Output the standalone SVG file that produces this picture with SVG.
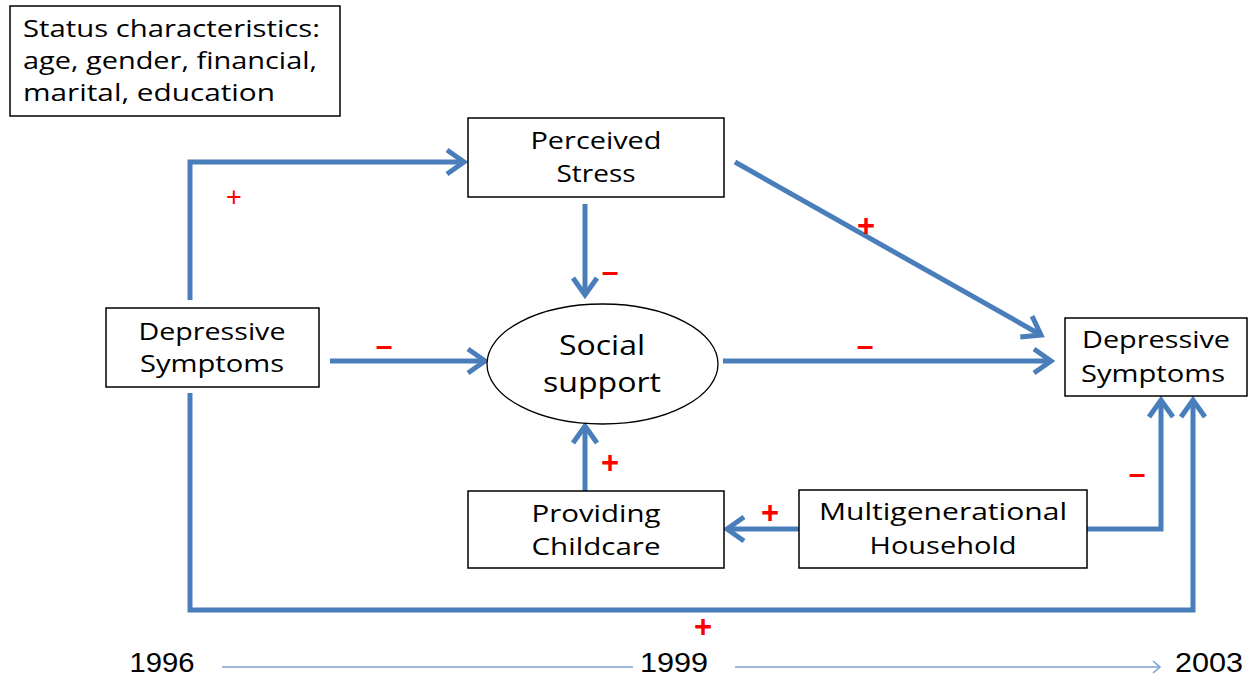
<svg xmlns="http://www.w3.org/2000/svg" width="1252" height="679" viewBox="0 0 1252 679">
<style>
.box{fill:#fff;stroke:#000;stroke-width:1.5}
.t{font-family:"Open Sans","Liberation Sans",Arial,sans-serif;font-size:24px;fill:#000;text-anchor:middle}
.s{font-family:"Open Sans","Liberation Sans",Arial,sans-serif;font-size:24px;fill:#000}
.yr{font-family:"Liberation Sans",Arial,sans-serif;font-size:28px;fill:#000;text-anchor:middle}
.c{fill:none;stroke:#4A7EBB;stroke-width:5;stroke-linejoin:miter}
.tl{fill:none;stroke:#7EA1CF;stroke-width:1.6}
.sg{font-family:"Liberation Sans",Arial,sans-serif;font-weight:bold;fill:#FF0000;text-anchor:middle}
</style>
<defs>
<marker id="ah" markerUnits="userSpaceOnUse" markerWidth="40" markerHeight="40" refX="0" refY="0" viewBox="-25 -20 40 40" orient="auto" overflow="visible">
<path d="M-17,-12 L0,0 L-17,12" fill="none" stroke="#4A7EBB" stroke-width="5" stroke-linejoin="miter"/>
</marker>
<marker id="ahs" markerUnits="userSpaceOnUse" markerWidth="20" markerHeight="20" refX="0" refY="0" viewBox="-10 -10 20 20" orient="auto" overflow="visible">
<path d="M-7,-6 L0,0 L-7,6" fill="none" stroke="#7EA1CF" stroke-width="1.6"/>
</marker>
</defs>
<rect width="1252" height="679" fill="#fff"/>

<g id="connectors">
<path class="c" d="M190,300 V162 H464" marker-end="url(#ah)"/>
<path class="c" d="M585,204 V295" marker-end="url(#ah)"/>
<path class="c" d="M735,162 L1041,335" marker-end="url(#ah)"/>
<path class="c" d="M330,361 H485" marker-end="url(#ah)"/>
<path class="c" d="M723,361 H1051" marker-end="url(#ah)"/>
<path class="c" d="M585,491 V426" marker-end="url(#ah)"/>
<path class="c" d="M799,529 H727" marker-end="url(#ah)"/>
<path class="c" d="M1087,529 H1161 V400" marker-end="url(#ah)"/>
<path class="c" d="M190,393 V610 H1193 V400" marker-end="url(#ah)"/>
<path class="tl" d="M222,667 H633"/>
<path class="tl" d="M735,667 H1160" marker-end="url(#ahs)"/>
</g>

<g id="signs">
<text class="sg" x="234" y="206" style="font-size:27px;font-weight:normal">+</text>
<text class="sg" x="610" y="282" style="font-size:30px">–</text>
<text class="sg" x="866" y="236" style="font-size:31px">+</text>
<text class="sg" x="384" y="356" style="font-size:30px">–</text>
<text class="sg" x="865" y="356" style="font-size:30px">–</text>
<text class="sg" x="610" y="473" style="font-size:31px">+</text>
<text class="sg" x="770" y="523" style="font-size:31px">+</text>
<text class="sg" x="1137" y="484" style="font-size:30px">–</text>
<text class="sg" x="703" y="637" style="font-size:31px">+</text>
</g>

<g id="status">
<rect class="box" x="10" y="6" width="330" height="110"/>
<text class="s" x="23" y="37" textLength="297" lengthAdjust="spacingAndGlyphs">Status characteristics:</text>
<text class="s" x="23" y="69" textLength="294" lengthAdjust="spacingAndGlyphs">age, gender, financial,</text>
<text class="s" x="23" y="101" textLength="252" lengthAdjust="spacingAndGlyphs">marital, education</text>
</g>

<g id="perceived-stress">
<rect class="box" x="468" y="118" width="256" height="79"/>
<text class="t" x="596" y="149" textLength="131" lengthAdjust="spacingAndGlyphs">Perceived</text>
<text class="t" x="596" y="182" textLength="79" lengthAdjust="spacingAndGlyphs">Stress</text>
</g>

<g id="depressive-1996">
<rect class="box" x="106" y="308" width="213" height="79"/>
<text class="t" x="212" y="340" textLength="147" lengthAdjust="spacingAndGlyphs">Depressive</text>
<text class="t" x="212" y="372" textLength="144" lengthAdjust="spacingAndGlyphs">Symptoms</text>
</g>

<g id="social-support">
<ellipse cx="602.5" cy="364" rx="115.5" ry="60" fill="#fff" stroke="#000" stroke-width="1.3"/>
<text class="t" x="602" y="355" style="font-size:27px" textLength="86" lengthAdjust="spacingAndGlyphs">Social</text>
<text class="t" x="602" y="392" style="font-size:27px" textLength="118" lengthAdjust="spacingAndGlyphs">support</text>
</g>

<g id="depressive-2003">
<rect class="box" x="1065" y="318" width="182" height="78"/>
<text class="t" x="1156" y="348" textLength="148" lengthAdjust="spacingAndGlyphs">Depressive</text>
<text class="t" x="1153" y="382" textLength="144" lengthAdjust="spacingAndGlyphs">Symptoms</text>
</g>

<g id="providing-childcare">
<rect class="box" x="468" y="491" width="256" height="77"/>
<text class="t" x="596" y="522" textLength="129" lengthAdjust="spacingAndGlyphs">Providing</text>
<text class="t" x="596" y="555" textLength="129" lengthAdjust="spacingAndGlyphs">Childcare</text>
</g>

<g id="multigenerational">
<rect class="box" x="799" y="490" width="288" height="78"/>
<text class="t" x="943" y="520" textLength="248" lengthAdjust="spacingAndGlyphs">Multigenerational</text>
<text class="t" x="943" y="554" textLength="147" lengthAdjust="spacingAndGlyphs">Household</text>
</g>

<g id="timeline">
<text class="yr" x="162" y="672" textLength="65" lengthAdjust="spacingAndGlyphs">1996</text>
<text class="yr" x="674" y="672" textLength="68" lengthAdjust="spacingAndGlyphs">1999</text>
<text class="yr" x="1209" y="672" textLength="68" lengthAdjust="spacingAndGlyphs">2003</text>
</g>
</svg>
